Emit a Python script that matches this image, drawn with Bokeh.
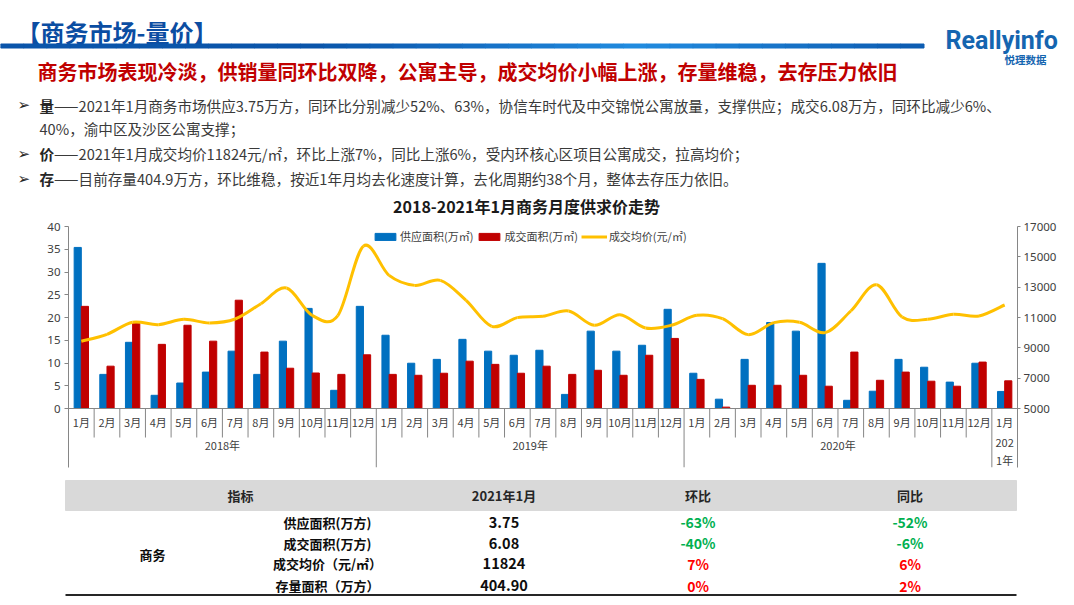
from bokeh.plotting import figure
from bokeh.models import Range1d, LinearAxis, FixedTicker, Legend, LegendItem, Span
from bokeh.layouts import column
from bokeh.core.properties import value
from bokeh.embed import file_html
from bokeh.resources import INLINE

CJK = "Noto Sans CJK SC"
W = 1066

# ---------------- data ----------------
months = ["1月", "2月", "3月", "4月", "5月", "6月", "7月", "8月", "9月", "10月", "11月", "12月"] * 3 + ["1月"]
year_labels = ["2018年", "2019年", "2020年", "2021年"]
year_counts = [12, 12, 12, 1]

supply = [35.4, 7.5, 14.55, 2.9, 5.6, 8.0, 12.6, 7.5, 14.8, 22.0, 4.0, 22.45,
          16.1, 9.95, 10.8, 15.2, 12.6, 11.7, 12.8, 3.1, 17.0, 12.6, 13.9, 21.8,
          7.75, 2.05, 10.8, 18.9, 17.0, 31.9, 1.8, 3.8, 10.8, 9.07, 5.8, 9.95,
          3.75]
sales = [22.45, 9.3, 18.7, 14.1, 18.3, 14.8, 23.8, 12.4, 8.85, 7.8, 7.5, 11.8,
         7.5, 7.3, 7.75, 10.4, 9.7, 7.75, 9.3, 7.5, 8.4, 7.3, 11.7, 15.4,
         6.4, 0.3, 5.1, 5.1, 7.3, 4.9, 12.4, 6.2, 8.0, 6.0, 4.9, 10.2,
         6.08]
price = [9432, 9890, 10683, 10529, 10880, 10639, 10902, 11911, 12943, 11143, 11121, 15707,
         13776, 13118, 13447, 12130, 10419, 10990, 11077, 11428, 10485, 11187, 10309, 10485,
         11143, 10924, 9871, 10661, 10683, 10002, 11428, 13162, 11033, 10880, 11209, 11099,
         11824]

series_names = ["供应面积(万㎡)", "成交面积(万㎡)", "成交均价(元/㎡)"]
left_ticks = [0, 5, 10, 15, 20, 25, 30, 35, 40]
right_ticks = [5000, 7000, 9000, 11000, 13000, 15000, 17000]

table_header = ["指标", "2021年1月", "环比", "同比"]
table_group = "商务"
table_items = ["供应面积(万方)", "成交面积(万方)", "成交均价（元/㎡）", "存量面积（万方）"]
table_values = ["3.75", "6.08", "11824", "404.90"]
table_mom = ["-63%", "-40%", "7%", "0%"]
table_yoy = ["-52%", "-6%", "6%", "2%"]

BLUE = "#0070C0"
RED = "#C00000"
GOLD = "#FFC000"
AXIS = "#868686"
TXT = "#404040"


def blank(height, top, bottom):
    f = figure(width=W, height=height, x_range=Range1d(0, W), y_range=Range1d(bottom, top),
               output_backend="svg", toolbar_location=None, x_axis_location=None,
               y_axis_location=None, min_border=0, outline_line_color=None)
    f.grid.visible = False
    f.frame_align = False
    return f


def txt(f, x, y, s, size, color, bold=False, align="left", font=CJK):
    f.text(x=[x], y=[y], text=[s], text_font=value(font), text_font_size=f"{size}px",
           text_color=color, text_font_style="bold" if bold else "normal",
           text_align=align, text_baseline="middle")


# ---------------- header ----------------
head = blank(218, 0, 218)
txt(head, 16, 31, "【商务市场-量价】", 24, "#0B4DA2", bold=True)

# gradient rule under the title
nseg = 40
x0, x1 = 0, 923
for k in range(nseg):
    a = x0 + (x1 - x0) * k / nseg
    b = x0 + (x1 - x0) * (k + 1) / nseg + 0.5
    t = (a - x0) / (x1 - x0)
    w = max(0.0, 1 - abs(t - 0.68) / 0.35)
    r = int(0x0A + (0x22 - 0x0A) * w)
    g = int(0x55 + (0x8C - 0x55) * w)
    bl = int(0xAA + (0xE0 - 0xAA) * w)
    head.quad(left=[a], right=[b], top=[43.5], bottom=[47.5], color=f"#{r:02x}{g:02x}{bl:02x}")

txt(head, 945, 40, "Reallyinfo", 25, "#1565B0", bold=True, font="Roboto")
txt(head, 1025, 58.5, "悦理数据", 10.5, "#1565B0", bold=True, align="center")

txt(head, 37, 71, "商务市场表现冷淡，供销量同环比双降，公寓主导，成交均价小幅上涨，存量维稳，去存压力依旧",
    20, "#C00000", bold=True)

BFS = 14.6
bullets = [
    (104.5, "量", "——2021年1月商务市场供应3.75万方，同环比分别减少52%、63%，协信车时代及中交锦悦公寓放量，支撑供应；成交6.08万方，同环比减少6%、"),
    (153, "价", "——2021年1月成交均价11824元/㎡，环比上涨7%，同比上涨6%，受内环核心区项目公寓成交，拉高均价；"),
    (178, "存", "——目前存量404.9万方，环比维稳，按近1年月均去化速度计算，去化周期约38个月，整体去存压力依旧。"),
]
for y, k, rest in bullets:
    txt(head, 17, y, "➢", 15, "#222222", font="DejaVu Sans")
    txt(head, 39, y, k, BFS, "#262626", bold=True)
    txt(head, 39 + BFS, y, rest, BFS, "#3A3A3A")
txt(head, 39, 127.5, "40%，渝中区及沙区公寓支撑；", BFS, "#3A3A3A")

txt(head, 526, 205.5, "2018-2021年1月商务月度供求价走势", 16, "#1A1A1A", bold=True, align="center")

# ---------------- chart ----------------
n = len(months)
PX_UNIT = 182 / 40.0
ybot = -(241 - 182) / PX_UNIT
pbot = 5000 - 59 * (12000 / 182.0)

p = figure(width=W, height=257, x_range=Range1d(0, n), y_range=Range1d(ybot, 40),
           output_backend="svg", toolbar_location=None, x_axis_location=None,
           min_border_left=68, min_border_right=W - 1017, min_border_top=8, min_border_bottom=8,
           outline_line_color=None)
p.frame_align = False
p.grid.visible = False
p.extra_y_ranges = {"price": Range1d(pbot, 17000)}

yl = p.yaxis[0]
yl.ticker = FixedTicker(ticks=left_ticks)
ra = LinearAxis(y_range_name="price", ticker=FixedTicker(ticks=right_ticks))
p.add_layout(ra, "right")
for ax in (yl, ra):
    ax.axis_line_color = AXIS
    ax.major_tick_line_color = AXIS
    ax.major_tick_out = 4
    ax.major_tick_in = 0
    ax.minor_tick_out = 0
    ax.minor_tick_in = 0
    ax.major_label_text_font = "Noto Sans"
    ax.major_label_text_font_size = "11.5px"
    ax.major_label_text_color = TXT
yl.major_label_standoff = 4
ra.major_label_standoff = 3
ra.major_tick_out = 3

xc = [i + 0.5 for i in range(n)]
bw = 0.28
rb = p.vbar(x=[x - bw / 2 for x in xc], top=supply, width=bw, bottom=0, color=BLUE)
rr = p.vbar(x=[x + bw / 2 for x in xc], top=sales, width=bw, bottom=0, color=RED)

# smooth (Excel-like) price curve via bezier segments anchored on the data points
bx0, by0, bx1, by1, cx0, cy0, cx1, cy1 = [], [], [], [], [], [], [], []
for i in range(n - 1):
    im = max(i - 1, 0)
    ip = min(i + 2, n - 1)
    bx0.append(xc[i]); by0.append(price[i])
    bx1.append(xc[i + 1]); by1.append(price[i + 1])
    cx0.append(xc[i] + (xc[i + 1] - xc[im]) / 6.0)
    cy0.append(price[i] + (price[i + 1] - price[im]) / 6.0)
    cx1.append(xc[i + 1] - (xc[ip] - xc[i]) / 6.0)
    cy1.append(price[i + 1] - (price[ip] - price[i]) / 6.0)
rl = p.bezier(x0=bx0, y0=by0, x1=bx1, y1=by1, cx0=cx0, cy0=cy0, cx1=cx1, cy1=cy1,
              line_color=GOLD, line_width=3, y_range_name="price")

p.add_layout(Span(location=0, dimension="width", line_color=AXIS, line_width=1))

# category separators
sep_x, sep_y1 = [], []
bounds = []
acc = 0
for c in year_counts:
    acc += c
    bounds.append(acc)
for k in range(1, n):
    sep_x.append(k)
    sep_y1.append(ybot if k in bounds else -(437 - 408) / PX_UNIT)
p.segment(x0=sep_x, y0=[0] * len(sep_x), x1=sep_x, y1=sep_y1, line_color=AXIS, line_width=1)

p.text(x=xc, y=[-(421.7 - 408) / PX_UNIT] * n, text=months, text_font=value(CJK),
       text_font_size="11px", text_color=TXT, text_align="center", text_baseline="middle")

ylab_x, ylab_y, ylab_t = [], [], []
start = 0
for lab, c in zip(year_labels, year_counts):
    ylab_x.append(start + c / 2.0)
    if c < 2:
        ylab_t.append(lab[:3] + "\n" + lab[3:])
        ylab_y.append(-(450.5 - 408) / PX_UNIT)
    else:
        ylab_t.append(lab)
        ylab_y.append(-(444 - 408) / PX_UNIT)
    start += c
p.text(x=ylab_x, y=ylab_y, text=ylab_t, text_font=value(CJK), text_font_size="11px",
       text_color=TXT, text_align="center", text_baseline="middle", text_line_height=1.15)

legend = Legend(items=[LegendItem(label=series_names[0], renderers=[rb]),
                       LegendItem(label=series_names[1], renderers=[rr]),
                       LegendItem(label=series_names[2], renderers=[rl])],
                orientation="horizontal", location=(304, 223),
                glyph_width=26, glyph_height=9, label_height=14, label_standoff=2, spacing=3,
                padding=0, margin=0, background_fill_alpha=0, border_line_alpha=0,
                label_text_font=CJK, label_text_font_size="11px", label_text_color=TXT)
p.add_layout(legend)

# ---------------- table ----------------
tb = blank(122, 475, 597)
tb.quad(left=[65], right=[1016], top=[480], bottom=[510], color="#D9D9D9")
tb.segment(x0=[65], y0=[594.5], x1=[1016], y1=[594.5], line_color="#262626", line_width=2)
col_x = [240, 503.5, 697.5, 909.5]
for cx, h in zip(col_x, table_header):
    txt(tb, cx, 495, h, 13, "#262626", bold=True, align="center")
txt(tb, 152, 554, table_group, 13, "#0D0D0D", bold=True, align="center")
row_y = [521.7, 542.7, 563.3, 585]
GREEN = "#00B050"
PRED = "#FF0000"
for ry, item, v, m, yy in zip(row_y, table_items, table_values, table_mom, table_yoy):
    txt(tb, 327, ry, item, 13, "#0D0D0D", bold=True, align="center")
    txt(tb, col_x[1], ry, v, 14.5, "#0D0D0D", bold=True, align="center")
    txt(tb, col_x[2], ry, m, 14, GREEN if m.startswith("-") else PRED, bold=True, align="center")
    txt(tb, col_x[3], ry, yy, 14, GREEN if yy.startswith("-") else PRED, bold=True, align="center")

page = column(head, p, tb, spacing=0)
open("out.html", "w").write(file_html(page, INLINE))
